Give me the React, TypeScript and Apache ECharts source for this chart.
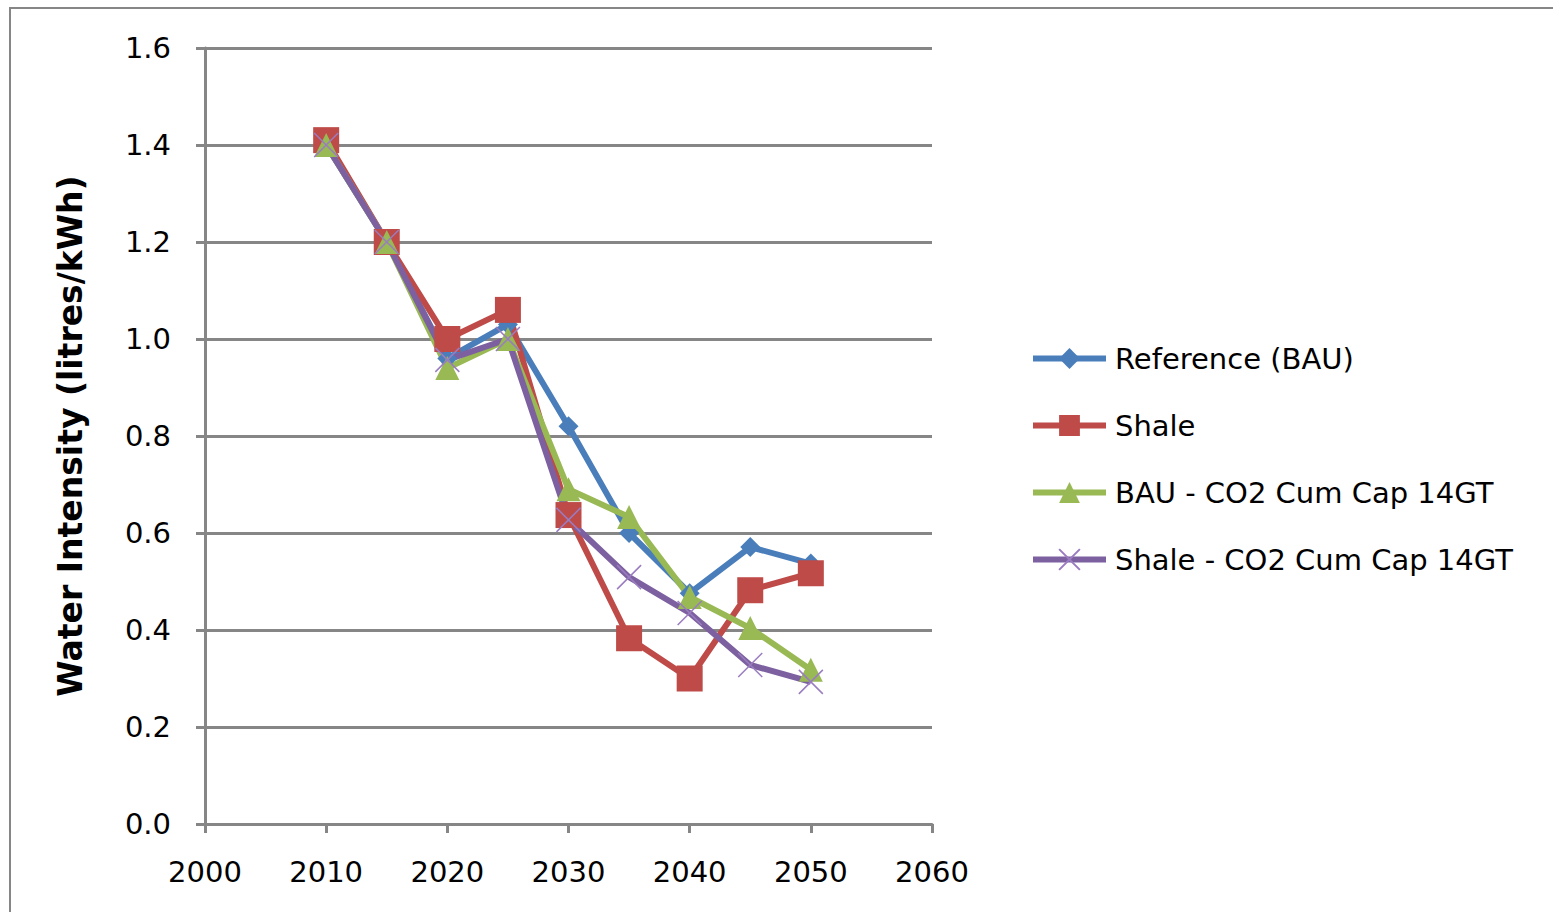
import React, { useEffect, useRef } from "react";
import * as echarts from "echarts";

const years = [2010, 2015, 2020, 2025, 2030, 2035, 2040, 2045, 2050];
const referenceBAU = [1.40, 1.20, 0.96, 1.03, 0.82, 0.60, 0.476, 0.571, 0.537];
const shale = [1.41, 1.20, 1.00, 1.06, 0.637, 0.383, 0.30, 0.482, 0.517];
const bauCap = [1.40, 1.20, 0.94, 1.00, 0.69, 0.633, 0.468, 0.404, 0.318];
const shaleCap = [1.40, 1.20, 0.957, 1.00, 0.627, 0.509, 0.435, 0.328, 0.293];
const seriesNames = ["Reference (BAU)", "Shale", "BAU - CO2 Cum Cap 14GT", "Shale - CO2 Cum Cap 14GT"];
const xTicks = { min: 2000, max: 2060, interval: 10 };
const yTicks = { min: 0, max: 1.6, interval: 0.2 };

const FONT = "DejaVu Sans";

export default function App() {
  const ref = useRef<HTMLDivElement>(null);
  useEffect(() => {
    document.body.style.margin = "0";
    const chart = echarts.init(ref.current!, null, { renderer: "svg" });
    const pair = (vals: number[]) => years.map((y, i) => [y, vals[i]]);
    const mk = (name: string, vals: number[], color: string, symbol: string, size: number) => ({
      name,
      type: "line",
      data: pair(vals),
      symbol,
      symbolSize: size,
      lineStyle: { color, width: 6 },
      itemStyle: { color },
      showSymbol: true,
    });
    chart.setOption({
      animation: false,
      backgroundColor: "#ffffff",
      graphic: [
        {
          type: "rect",
          shape: { x: 10, y: 8, width: 1560, height: 920 },
          style: { fill: "none", stroke: "#868686", lineWidth: 2 },
          silent: true,
        },
      ],
      grid: { left: 205, right: 621, top: 48, bottom: 88 },
      xAxis: {
        type: "value",
        min: xTicks.min,
        max: xTicks.max,
        interval: xTicks.interval,
        axisLine: { show: true, lineStyle: { color: "#868686", width: 3 } },
        axisTick: { show: true, length: 9, lineStyle: { color: "#868686", width: 3 } },
        axisLabel: { color: "#000", fontFamily: FONT, fontSize: 29, margin: 33, formatter: (v: number) => String(v) },
        splitLine: { show: false },
      },
      yAxis: {
        type: "value",
        min: yTicks.min,
        max: yTicks.max,
        interval: yTicks.interval,
        name: "Water Intensity (litres/kWh)",
        nameLocation: "middle",
        nameGap: 118,
        nameTextStyle: { color: "#000", fontFamily: FONT, fontSize: 33, fontWeight: "bold" },
        axisLine: { show: true, lineStyle: { color: "#868686", width: 3 } },
        axisTick: { show: true, length: 9, lineStyle: { color: "#868686", width: 3 } },
        axisLabel: { color: "#000", fontFamily: FONT, fontSize: 29, margin: 34, formatter: (v: number) => v.toFixed(1) },
        splitLine: { show: true, lineStyle: { color: "#868686", width: 3 } },
      },
      legend: {
        orient: "vertical",
        left: 1030,
        top: 344,
        padding: 0,
        itemWidth: 73,
        itemHeight: 26,
        itemGap: 38,
        textStyle: { color: "#000", fontFamily: FONT, fontSize: 29, padding: [0, 0, 0, 4] },
        lineStyle: { width: 6 },
        data: seriesNames,
      },
      series: [
        mk(seriesNames[0], referenceBAU, "#4A7EBB", "diamond", 20),
        mk(seriesNames[1], shale, "#BE4B48", "rect", 26),
        mk(seriesNames[2], bauCap, "#98B954", "triangle", 24),
        {
          ...mk(seriesNames[3], shaleCap, "#7D60A0", "path://M0,0L10,10M10,0L0,10", 24),
          itemStyle: { color: "#7D60A0", borderColor: "#9A7CC0", borderWidth: 1.5 },
        },
      ],
    });
    return () => chart.dispose();
  }, []);
  return <div ref={ref} style={{ width: 1553, height: 912 }} />;
}
